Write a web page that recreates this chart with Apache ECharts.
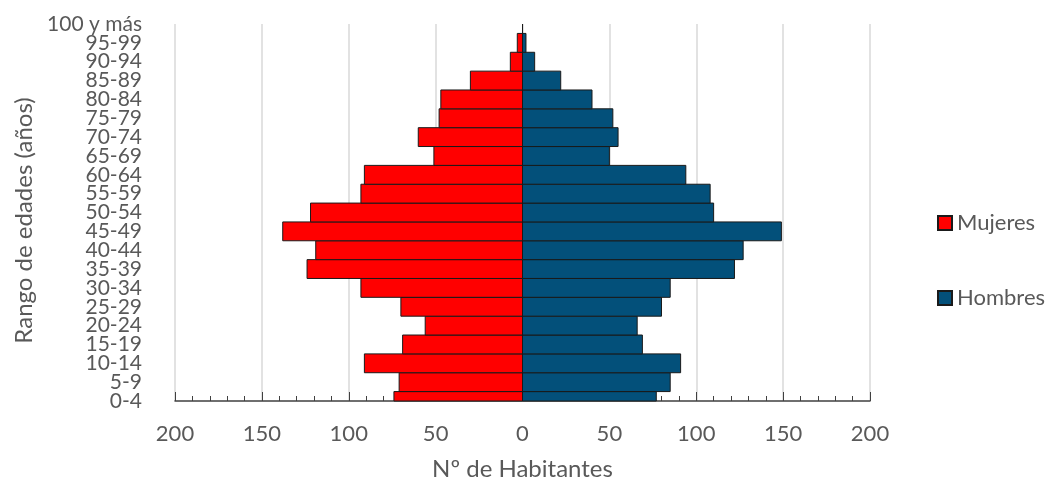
<!DOCTYPE html>
<html>
<head>
<meta charset="utf-8">
<script src="https://cdn.jsdelivr.net/npm/echarts@6/dist/echarts.min.js"></script>
<style>
  html, body { margin: 0; padding: 0; background: #fff; }
  #chart { width: 1049px; height: 486px; }
</style>
</head>
<body>
<div id="chart"></div>
<script>
var edades = ["0-4","5-9","10-14","15-19","20-24","25-29","30-34","35-39","40-44","45-49",
              "50-54","55-59","60-64","65-69","70-74","75-79","80-84","85-89","90-94","95-99","100 y más"];
var mujeres = [74, 71, 91, 69, 56, 70, 93, 124, 119, 138, 122, 93, 91, 51, 60, 48, 47, 30, 7, 3, 0];
var hombres = [77, 85, 91, 69, 66, 80, 85, 122, 127, 149, 110, 108, 94, 50, 55, 52, 40, 22, 7, 2, 0];
var ticksX = [-200, 200, 50];

var gris = '#595959';
var fuente = 'Lato';

// barra horizontal recortada al área del grid (Excel corta la primera y última categoría)
function barra(params, api) {
    var idx = api.value(0);
    var val = api.value(1);
    var p0 = api.coord([0, idx]);
    var p1 = api.coord([val, idx]);
    var h = api.size([0, 1])[1];
    var cs = params.coordSys;
    var shape = echarts.graphic.clipRectByRect({
        x: Math.min(p0[0], p1[0]),
        y: p0[1] - h / 2,
        width: Math.abs(p1[0] - p0[0]),
        height: h
    }, { x: cs.x, y: cs.y, width: cs.width, height: cs.height });
    return shape && { type: 'rect', shape: shape, style: api.style() };
}

var myChart = echarts.init(document.getElementById('chart'));

myChart.setOption({
    animation: false,
    textStyle: { fontFamily: fuente },
    legend: {
        data: ['Mujeres', 'Hombres'],
        orient: 'vertical',
        left: 932,
        top: 207,
        itemWidth: 14,
        itemHeight: 14,
        itemGap: 53,
        icon: 'rect',
        textStyle: { color: gris, fontSize: 22, fontFamily: fuente, lineHeight: 22 }
    },
    grid: { left: 175, right: 179, top: 24, bottom: 82, containLabel: false },
    xAxis: {
        type: 'value',
        min: ticksX[0],
        max: ticksX[1],
        interval: ticksX[2],
        name: 'Nº de Habitantes',
        nameLocation: 'middle',
        nameGap: 56,
        nameTextStyle: { color: gris, fontSize: 24, fontFamily: fuente },
        axisLine: { show: true, lineStyle: { color: '#404040', width: 1.5 } },
        axisTick: { show: true, inside: true, length: 9, lineStyle: { color: '#404040' } },
        minorTick: { show: true, splitNumber: 5, length: 5, lineStyle: { color: '#404040' } },
        axisLabel: {
            color: gris, fontSize: 22, margin: 22, fontFamily: fuente,
            formatter: function (v) { return Math.abs(v); }
        },
        splitLine: { show: true, lineStyle: { color: '#d9d9d9', width: 1.5 } }
    },
    yAxis: {
        type: 'category',
        data: edades,
        boundaryGap: false,
        name: 'Rango de edades (años)',
        nameLocation: 'middle',
        nameGap: 138,
        nameTextStyle: { color: gris, fontSize: 24, fontFamily: fuente, padding: [0, 16, 0, 0] },
        axisLine: { show: false, onZero: false },
        axisTick: { show: false },
        axisLabel: { color: gris, fontSize: 21, margin: 33, fontFamily: fuente, interval: 0, lineHeight: 19, padding: [4, 0, 0, 0] },
        splitLine: { show: false }
    },
    series: [{
        name: 'Mujeres',
        type: 'custom',
        renderItem: barra,
        encode: { x: 1, y: 0 },
        itemStyle: { color: '#ff0000', borderColor: '#1a1a1a', borderWidth: 1 },
        data: mujeres.map(function (v, i) { return [i, -v]; })
    }, {
        name: 'Hombres',
        type: 'custom',
        renderItem: barra,
        encode: { x: 1, y: 0 },
        itemStyle: { color: '#03507a', borderColor: '#1a1a1a', borderWidth: 1 },
        data: hombres.map(function (v, i) { return [i, v]; })
    }]
});
</script>
</body>
</html>
